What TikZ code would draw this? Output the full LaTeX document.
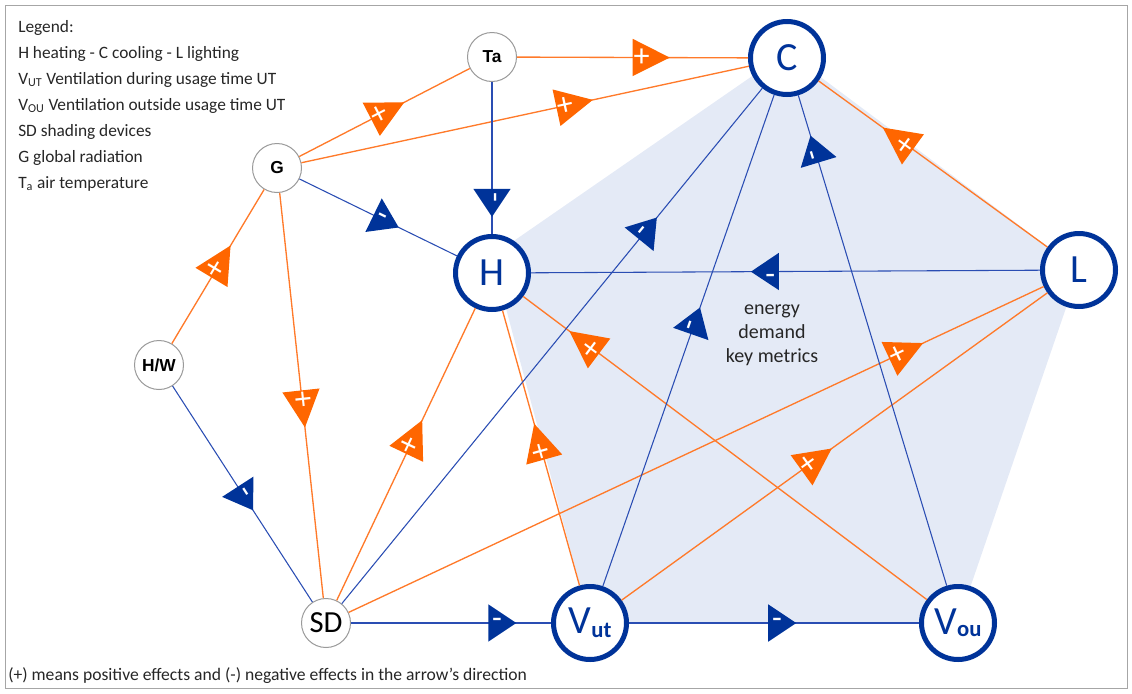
\documentclass[tikz,border=0pt]{standalone}
\usepackage{fontspec}
\setmainfont{Carlito}
\newfontfamily\arialfont{Liberation Sans}
\usetikzlibrary{shapes.geometric}
\definecolor{nodeblue}{HTML}{003399}
\definecolor{lineblue}{HTML}{2A4DB3}
\definecolor{markorange}{HTML}{FF6600}
\definecolor{lineorange}{HTML}{FF7A2A}
\definecolor{shadeblue}{HTML}{E4EAF6}
\definecolor{ringgray}{HTML}{9A9A9A}
\definecolor{framegray}{HTML}{A6A6A6}
\definecolor{inkgray}{HTML}{262626}

\begin{document}
\begin{tikzpicture}[
    x=0.75pt, y=-0.75pt,
    big/.style={circle, draw=nodeblue, line width=3.75pt, fill=white, minimum size=54.75pt, inner sep=0pt, text=nodeblue, font=\fontsize{30}{30}\selectfont},
    small/.style={circle, draw=ringgray, line width=0.75pt, fill=white, minimum size=36.75pt, inner sep=0pt, text=black, font=\arialfont\bfseries\fontsize{13}{13}\selectfont},
    posline/.style={draw=lineorange, line width=1pt},
    negline/.style={draw=lineblue, line width=0.8pt},
    pmark/.style={isosceles triangle, isosceles triangle stretches, minimum width=28pt, minimum height=21pt, inner sep=0pt, sloped, allow upside down, fill=markorange, text=white, font=\fontsize{24}{24}\selectfont},
    nmark/.style={pmark, fill=nodeblue}
  ]
    \useasboundingbox (0,0) rectangle (1132,693);
    \draw[framegray, line width=0.75pt] (5,5) rectangle (1127,688);
    \fill[shadeblue] (492,256) -- (787,52) -- (1079,270) -- (958,623) -- (590,623) -- cycle;

    \node[small] (ta) at (492,57) {Ta};
    \node[small] (g) at (277,168) {G};
    \node[small] (hw) at (159,365) {H/W};
    \node[small, font=\fontsize{23}{23}\selectfont] (sd) at (326,623) {SD};
    \node[big] (c) at (787,58) {C};
    \node[big] (h) at (492,273) {H};
    \node[big] (l) at (1079,270) {L};
    \node[big] (vut) at (590,623) {V\raisebox{-3pt}{\fontsize{17}{17}\selectfont\bfseries ut}};
    \node[big] (vou) at (958,623) {V\raisebox{-1.5pt}{\fontsize{17}{17}\selectfont\bfseries ou}};

    \node[align=center, text=inkgray, font=\fontsize{15}{18}\selectfont] (metrics) at (772,335) {energy\\demand\\key metrics};
    \node[anchor=north west, inner sep=0pt, align=left, text=inkgray, font=\fontsize{13}{19.5}\selectfont] (legend) at (18,20) {Legend:\\H heating - C cooling - L lighting\\V\textsubscript{UT} Ventilation during usage time UT\\V\textsubscript{OU} Ventilation outside usage time UT\\SD shading devices\\G global radiation\\T\textsubscript{a} air temperature};
    \node[anchor=base west, inner sep=0pt, text=inkgray, font=\fontsize{13.2}{15}\selectfont] (note) at (8,680) {(+) means positive effects and (-) negative effects in the arrow’s direction};

    \draw[posline] (ta) -- node[pmark, pos=0.54] {+} (c);
    \draw[posline] (g) -- node[pmark, pos=0.59] {+} (c);
    \draw[posline] (g) -- node[pmark, pos=0.47] {+} (ta);
    \draw[posline] (hw) -- node[pmark, pos=0.48] {+} (g);
    \draw[posline] (g) -- node[pmark, pos=0.51] {+} (sd);
    \draw[posline] (sd) -- node[pmark, pos=0.53] {+} (h);
    \draw[posline] (vut) -- node[pmark, pos=0.49] {+} (h);
    \draw[posline] (vou) -- node[pmark, pos=0.83] {+} (h);
    \draw[posline] (sd) -- node[pmark, pos=0.79] {+} (l);
    \draw[posline] (vut) -- node[pmark, pos=0.44] {+} (l);
    \draw[posline] (l) -- node[pmark, pos=0.62] {+} (c);

    \draw[negline] (ta) -- node[nmark, pos=0.76] {-} (h);
    \draw[negline] (g) -- node[nmark, pos=0.52] {-} (h);
    \draw[negline] (hw) -- node[nmark, pos=0.5] {-} (sd);
    \draw[negline] (sd) -- node[nmark, pos=0.72] {-} (c);
    \draw[negline] (vut) -- node[nmark, pos=0.53] {-} (c);
    \draw[negline] (vou) -- node[nmark, pos=0.88] {-} (c);
    \draw[negline] (l) -- node[nmark, pos=0.53] {-} (h);
    \draw[negline] (sd) -- node[nmark, pos=0.73] {-} (vut);
    \draw[negline] (vut) -- node[nmark, pos=0.51] {-} (vou);
  \end{tikzpicture}
\end{document}
